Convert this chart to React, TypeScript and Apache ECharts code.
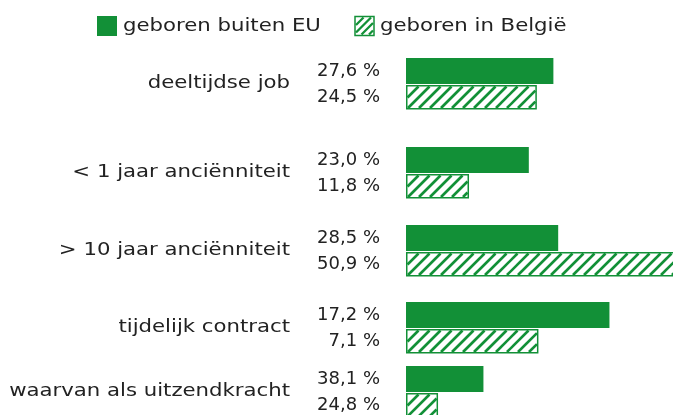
import React, { useEffect, useRef } from "react";
import * as echarts from "echarts";

const categories = [
  "deeltijdse job",
  "< 1 jaar anciënniteit",
  "> 10 jaar anciënniteit",
  "tijdelijk contract",
  "waarvan als uitzendkracht",
];
// bar lengths as drawn (percent)
const euBars = [27.6, 23.0, 28.5, 38.1, 14.5];
const beBars = [24.5, 11.8, 50.9, 24.8, 6.0];
// printed labels
const euLabels = ["27,6 %", "23,0 %", "28,5 %", "17,2 %", "38,1 %"];
const beLabels = ["24,5 %", "11,8 %", "50,9 %", "7,1 %", "24,8 %"];
const seriesNames = ["geboren buiten EU", "geboren in België"];

// layout: row positions along the (value) y axis
const rowPos = [0, 1.156, 2.169, 3.169, 4.0];

const GREEN = "#129037";
const TEXT = "#222222";
const FONT = "DejaVu Sans";
const FS = 18;
const WIDE = 1.18;

function hatch(x0: number, x1: number, yt: number, yb: number, spacing: number, lw: number) {
  const h = yb - yt;
  const out: any[] = [];
  for (let s = x0 - h; s < x1; s += spacing) {
    let ax = s, ay = yb, bx = s + h, by = yt;
    if (ax < x0) { ay = yb - (x0 - ax); ax = x0; }
    if (bx > x1) { by = yt + (bx - x1); bx = x1; }
    if (bx <= ax) continue;
    out.push({
      type: "line",
      shape: { x1: ax, y1: ay, x2: bx, y2: by },
      style: { stroke: GREEN, lineWidth: lw },
      silent: true,
    });
  }
  return out;
}

export default function App() {
  const ref = useRef<HTMLDivElement>(null);
  useEffect(() => {
    if (!ref.current) return;
    const chart = echarts.init(ref.current, null, { renderer: "svg" });

    const data = categories.map((_, i) => [euBars[i], rowPos[i], i]);

    const legendHatch = [
      { type: "rect", shape: { x: 355, y: 16.5, width: 19, height: 19 }, style: { fill: "#fff", stroke: GREEN, lineWidth: 1.5 } },
      ...hatch(356, 373, 17.5, 34.5, 7.5, 2.3),
    ];

    chart.setOption({
      animation: false,
      grid: { left: 406, right: 0, top: 7, bottom: 0, containLabel: false },
      xAxis: { type: "value", min: 0, max: 50, show: false },
      yAxis: { type: "value", min: -1, max: 4.2987, inverse: true, show: false },
      graphic: [
        { type: "rect", shape: { x: 97, y: 16, width: 20, height: 20 }, style: { fill: GREEN } },
        {
          type: "text", x: 123, y: 25.5, scaleX: WIDE,
          style: { text: seriesNames[0], fill: TEXT, fontFamily: FONT, fontSize: FS, verticalAlign: "middle" },
        },
        ...legendHatch,
        {
          type: "text", x: 380, y: 25.5, scaleX: WIDE,
          style: { text: seriesNames[1], fill: TEXT, fontFamily: FONT, fontSize: FS, verticalAlign: "middle" },
        },
      ],
      series: [
        {
          type: "custom",
          clip: false,
          encode: { x: 0, y: 1 },
          data,
          renderItem: (params: any, api: any) => {
            const i = api.value(2);
            const pos = rowPos[i];
            const [x0, yc] = api.coord([0, pos]);
            const xe = api.coord([euBars[i], pos])[0];
            const xb = api.coord([beBars[i], pos])[0];
            const euTop = yc - 26;
            const beTop = yc + 1;
            const beH = 24.5;
            const children: any[] = [
              { type: "rect", shape: { x: x0, y: euTop, width: xe - x0, height: 26 }, style: { fill: GREEN } },
              {
                type: "rect",
                shape: { x: x0 + 0.75, y: beTop + 0.75, width: xb - x0 - 1.5, height: beH - 1.5 },
                style: { fill: "#fff", stroke: GREEN, lineWidth: 1.5 },
              },
              ...hatch(x0 + 1.5, xb - 1.5, beTop + 1.5, beTop + beH - 1.5, 11, 2.6),
              {
                type: "text", x: 290, y: yc - 1.5, scaleX: WIDE,
                style: { text: categories[i], align: "right", verticalAlign: "middle", fill: TEXT, fontFamily: FONT, fontSize: FS },
              },
              {
                type: "text", x: 380, y: euTop + 11.5,
                style: { text: euLabels[i], align: "right", verticalAlign: "middle", fill: TEXT, fontFamily: FONT, fontSize: FS },
              },
              {
                type: "text", x: 380, y: beTop + beH / 2 - 1.5,
                style: { text: beLabels[i], align: "right", verticalAlign: "middle", fill: TEXT, fontFamily: FONT, fontSize: FS },
              },
            ];
            return { type: "group", children };
          },
        },
      ],
    });
    return () => chart.dispose();
  }, []);
  return <div ref={ref} style={{ position: "fixed", left: 0, top: 0, width: 673, height: 415 }} />;
}
